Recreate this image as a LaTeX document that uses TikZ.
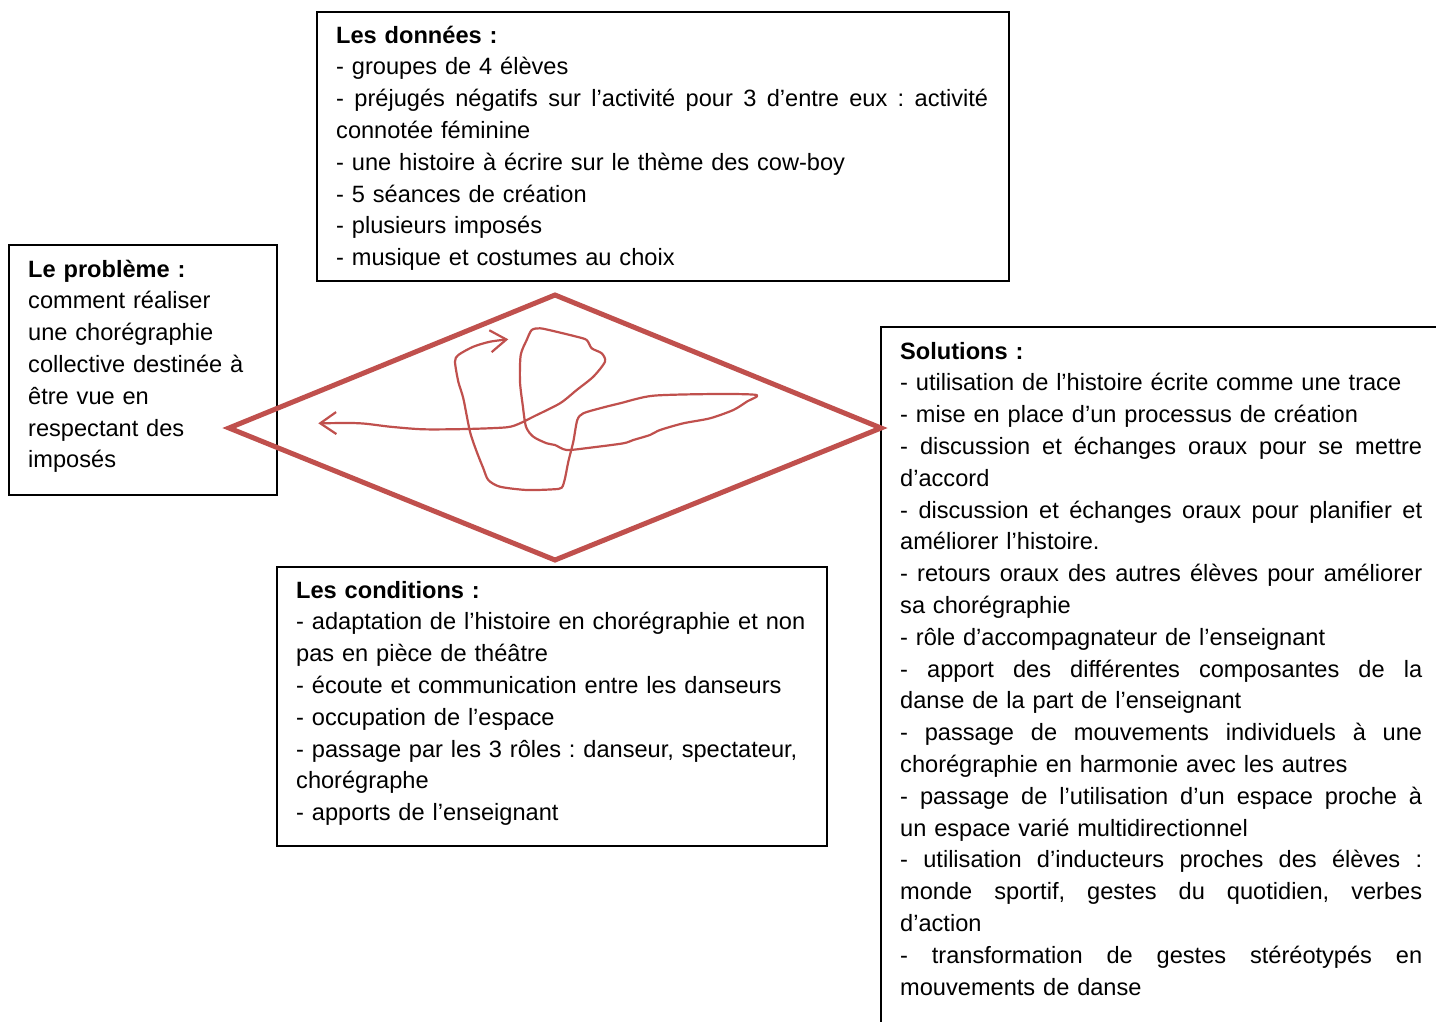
\documentclass[tikz,border=0pt]{standalone}
\usepackage{fontspec}
\setmainfont{Liberation Sans}
\usetikzlibrary{arrows.meta}
\definecolor{accred}{HTML}{C0504D}
\newlength{\jw}
\newcommand{\jline}[1]{\leavevmode\hbox to \jw{#1}}
\newcommand{\gs}{\hspace{0pt plus 1fil}}
\frenchspacing
\begin{document}
\begin{tikzpicture}[x=1pt,y=-1pt,
  frame/.style={draw=black,line width=1.8pt,anchor=north west,inner sep=0pt},
  txt/.style={anchor=base west,inner sep=0pt,align=left,text=black,
    font=\fontsize{23.6}{31.8}\selectfont\frenchspacing},
  diam/.style={draw=accred,line width=5pt,line join=miter},
  squig/.style={draw=accred,line width=2.2pt,line cap=round,line join=round,
    {Straight Barb[length=16pt,width=22pt]}-{Straight Barb[length=16pt,width=22pt]}}]
\useasboundingbox[fill=white] (0,0) rectangle (1436,1021);

% frames
\node[frame,minimum width=692pt,minimum height=269pt] (fdon) at (316,11) {};
\node[frame,minimum width=268pt,minimum height=250pt] (fpro) at (8,244) {};
\node[frame,minimum width=550pt,minimum height=279pt] (fcon) at (276,566) {};
\node[frame,minimum width=620pt,minimum height=760pt] (fsol) at (880,326) {};

% diamond
\draw[diam] (229,428) -- (555,295) -- (881,428) -- (555,560) -- cycle;

% scribble
\draw[squig] plot[smooth,tension=0.45] coordinates {
 (318.3,423.3) (360,423.3) (390,426.7) (423.3,429.3) (466.7,429) (506.7,427.3)
 (520,423.3) (533.3,416.7) (560,403.3) (576.7,390) (593.3,376.7) (605,361.7)
 (601.7,353.3) (591.7,348.3) (586.7,340) (576.7,336.7) (553.3,331) (540,328.3)
 (531.7,330) (526.7,340) (520.7,355) (520,381.7) (522.7,405) (526,426.7)
 (533.3,436.7) (546.7,443.3) (555,445) (566.7,450) (590,447.7) (623.3,443.3)
 (633.3,440) (650,435) (660,430) (683.3,423.3) (710,418.3) (733.3,410)
 (746.7,401.7) (756.7,395) (716.7,394) (653.3,395.7) (620,403.3) (600,408.3)
 (583.3,413.3) (577.3,420) (573.3,441.7) (568.3,461.7) (565,478.3) (561.7,487.7)
 (553.3,489.3) (526.7,490) (500,486.7) (488.3,480) (483.3,468.3) (476.7,451.7)
 (470,431.7) (463.3,398.3) (458.3,381.7) (455,361.7) (458.3,355) (473.3,346.7)
 (490,341.7) (508.3,339.3)};

% texts
\node[txt,text width=652pt] (tdon) at (336,43) {\setlength{\jw}{652pt}%
\textbf{Les données :}\\
- groupes de 4 élèves\\
\jline{- \gs préjugés \gs négatifs \gs sur \gs l’activité \gs pour \gs 3 \gs d’entre \gs eux \gs : \gs activité}\\
connotée féminine\\
- une histoire à écrire sur le thème des cow-boy\\
- 5 séances de création\\
- plusieurs imposés\\
- musique et costumes au choix};

\node[txt,text width=240pt] (tpro) at (28,277) {%
\textbf{Le problème :}\\
comment réaliser\\
une chorégraphie\\
collective destinée à\\
être vue en\\
respectant des\\
imposés};

\node[txt,text width=520pt] (tcon) at (296,598) {%
\textbf{Les conditions :}\\
- adaptation de l’histoire en chorégraphie et non\\
pas en pièce de théâtre\\
- écoute et communication entre les danseurs\\
- occupation de l’espace\\
- passage par les 3 rôles : danseur, spectateur,\\
chorégraphe\\
- apports de l’enseignant};

\node[txt,text width=522pt] (tsol) at (900,359) {\setlength{\jw}{522pt}%
\textbf{Solutions :}\\
- utilisation de l’histoire écrite comme une trace\\
- mise en place d’un processus de création\\
\jline{- \gs discussion \gs et \gs échanges \gs oraux \gs pour \gs se \gs mettre}\\
d’accord\\
\jline{- \gs discussion \gs et \gs échanges \gs oraux \gs pour \gs planifier \gs et}\\
améliorer l’histoire.\\
\jline{- \gs retours \gs oraux \gs des \gs autres \gs élèves \gs pour \gs améliorer}\\
sa chorégraphie\\
- rôle d’accompagnateur de l’enseignant\\
\jline{- \gs apport \gs des \gs différentes \gs composantes \gs de \gs la}\\
danse de la part de l’enseignant\\
\jline{- \gs passage \gs de \gs mouvements \gs individuels \gs à \gs une}\\
chorégraphie en harmonie avec les autres\\
\jline{- \gs passage \gs de \gs l’utilisation \gs d’un \gs espace \gs proche \gs à}\\
un espace varié multidirectionnel\\
\jline{- \gs utilisation \gs d’inducteurs \gs proches \gs des \gs élèves \gs :}\\
\jline{monde \gs sportif, \gs gestes \gs du \gs quotidien, \gs verbes}\\
d’action\\
\jline{- \gs transformation \gs de \gs gestes \gs stéréotypés \gs en}\\
mouvements de danse};
\end{tikzpicture}
\end{document}
